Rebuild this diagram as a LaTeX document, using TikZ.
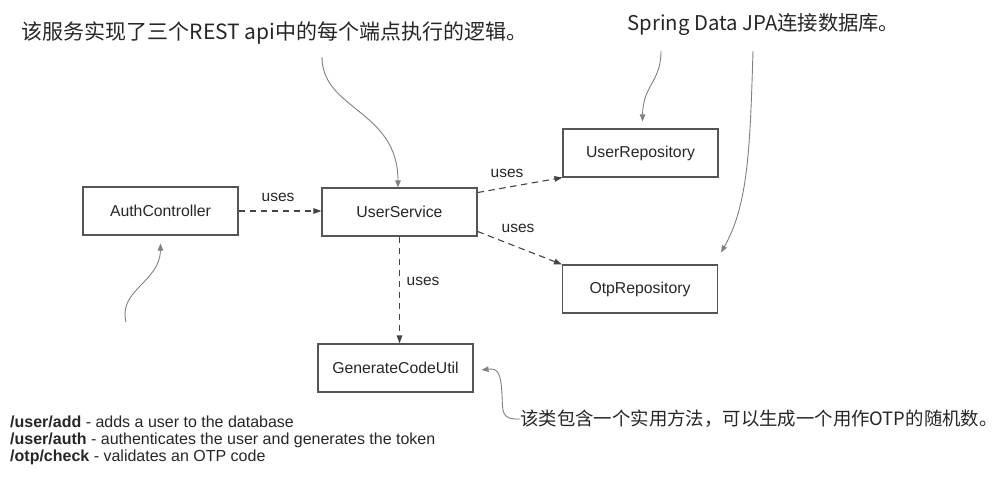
\documentclass[tikz,border=0pt]{standalone}
\usepackage{fontspec}
\setmainfont{Liberation Sans}
\newfontfamily\cjk{Noto Sans CJK SC}
\usetikzlibrary{arrows.meta,calc}
\definecolor{boxline}{HTML}{555555}
\definecolor{dashline}{HTML}{444444}
\definecolor{noteline}{HTML}{808080}
\definecolor{txt}{HTML}{262626}
\tikzset{
  classbox/.style={draw=boxline, line width=1.1pt, minimum width=155pt, minimum height=48pt, inner sep=0pt, text=txt, font=\fontsize{15.8}{18}\selectfont},
  usesarrow/.style={draw=dashline, line width=1.1pt, dash pattern=on 6.5pt off 4.5pt, -{Triangle[length=8pt,width=5.5pt]}},
  notearrow/.style={draw=noteline, line width=0.9pt, -{Triangle[length=7pt,width=5.5pt]}},
  useslabel/.style={text=txt, font=\fontsize{15.5}{18}\selectfont, inner sep=0pt},
  cjknote/.style={text=txt, inner sep=0pt},
}
\begin{document}
\begin{tikzpicture}[x=1pt, y=-1pt]
\useasboundingbox (0,0) rectangle (1007,477);
% class boxes
\node[classbox] (ac) at (160.5,211) {AuthController};
\node[classbox] (us) at (399.5,212) {UserService};
\node[classbox] (ur) at (640.5,153) {UserRepository};
\node[classbox] (or) at (640,289) {OtpRepository};
\node[classbox] (gc) at (395.5,368) {GenerateCodeUtil};
% uses connectors
\draw[usesarrow] (ac.east) -- (ac.east -| us.west);
\draw[usesarrow] (us.14.5) -- (ur.south west);
\draw[usesarrow] (us.-14) -- (or.north west);
\draw[usesarrow] (us.south) -- (us.south |- gc.north);
% uses labels
\node[useslabel] (l1) at (278,197) {uses};
\node[useslabel] (l2) at (507,173) {uses};
\node[useslabel] (l3) at (518,228) {uses};
\node[useslabel] (l4) at (423,281) {uses};
% annotations
\node[cjknote, font=\cjk\fontsize{21}{24}\selectfont] (n1) at (274.5,33) {该服务实现了三个REST api中的每个端点执行的逻辑。};
\node[cjknote, font=\cjk\fontsize{20.3}{24}\selectfont] (n2) at (763.5,24) {Spring Data JPA连接数据库。};
\node[cjknote, font=\cjk\fontsize{18.4}{22}\selectfont, anchor=west] (n3) at (520,419) {该类包含一个实用方法，可以生成一个用作OTP的随机数。};
\node[text=txt, font=\fontsize{16}{17}\selectfont, align=left, anchor=west, inner sep=0pt] (ep) at (10,440)
  {\textbf{/user/add} - adds a user to the database\\
   \textbf{/user/auth} - authenticates the user and generates the token\\
   \textbf{/otp/check} - validates an OTP code};
% annotation curves
\coordinate (c1) at (322,57);
\coordinate (c2) at (661,51);
\coordinate (c3) at (753,51);
\coordinate (c4) at (126,322);
\draw[notearrow] (c1) .. controls (322,110) and (398,110) .. (us.north -| 398,0);
\draw[notearrow] (c2) .. controls (661,82) and (643,85) .. ($(ur.north west)+(80,-7)$);
\draw[notearrow] (c3) .. controls (750,150) and (748,205) .. ($(or.north east)+(3,-12)$);
\draw[notearrow] (c4) .. controls (118,290) and (160,282) .. ($(ac.south)+(0,8)$);
\draw[notearrow] (n3.west) .. controls (500,420) and (503,410) .. (502,395) .. controls (501,373) and (498,368) .. ($(gc.east)+(8,2)$);
\end{tikzpicture}
\end{document}
